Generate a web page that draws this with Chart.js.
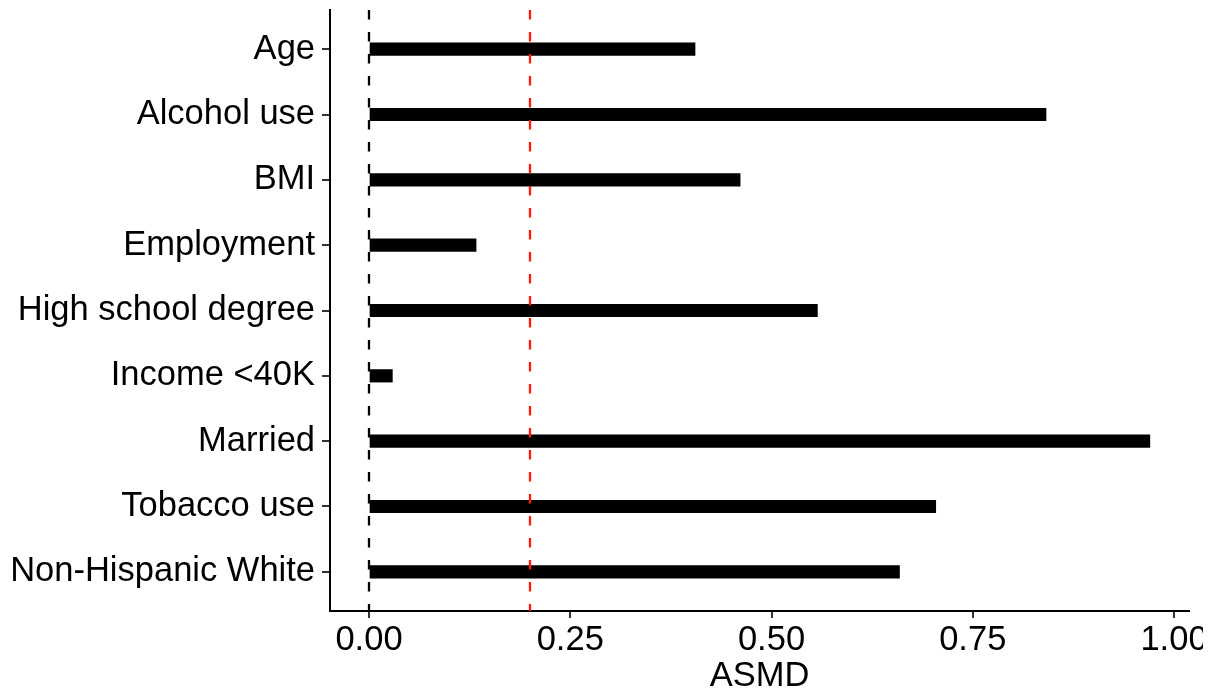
<!DOCTYPE html>
<html>
<head>
<meta charset="utf-8">
<title>ASMD by covariate</title>
<script src="https://cdn.jsdelivr.net/npm/chart.js@4/dist/chart.umd.min.js"></script>
<style>
  html, body { margin: 0; padding: 0; background: #ffffff; }
  #wrap { width: 1203px; height: 698px; position: relative; }
</style>
</head>
<body>
<div id="wrap"><canvas id="chart"></canvas></div>
<script>
// Covariates (top to bottom) and their absolute standardized mean differences
const covariates = ["Age", "Alcohol use", "BMI", "Employment", "High school degree",
                    "Income <40K", "Married", "Tobacco use", "Non-Hispanic White"];
const asmd = [0.405, 0.841, 0.461, 0.133, 0.557, 0.029, 0.970, 0.704, 0.659];

// Reference lines: zero and the 0.2 balance threshold
const zeroLine = 0;
const threshold = 0.2;

// X axis tick positions and labels
const xTicks = [0, 0.25, 0.5, 0.75, 1];
const xTickLabels = ["0.00", "0.25", "0.50", "0.75", "1.00"];

const FONT = "'Liberation Sans', Arial, Helvetica, sans-serif";

// Dashed vertical reference lines drawn above the bars
const refLines = {
  id: 'refLines',
  afterDatasetsDraw(chart) {
    const { ctx, chartArea, scales } = chart;
    const lines = [
      { value: zeroLine, color: '#000000' },
      { value: threshold, color: '#ff1a0a' }
    ];
    ctx.save();
    ctx.lineWidth = 2.3;
    ctx.lineCap = 'butt';
    ctx.setLineDash([9.5, 12.5]);
    for (const l of lines) {
      const x = scales.x.getPixelForValue(l.value);
      ctx.strokeStyle = l.color;
      ctx.beginPath();
      ctx.moveTo(x, chartArea.top);
      ctx.lineTo(x, chartArea.bottom);
      ctx.stroke();
    }
    ctx.restore();
  }
};

new Chart(document.getElementById('chart'), {
  type: 'bar',
  data: {
    datasets: [{
      data: asmd.map((v, i) => ({ x: v, y: i })),
      backgroundColor: '#000000',
      borderWidth: 0,
      barThickness: 12.5
    }]
  },
  options: {
    indexAxis: 'y',
    responsive: true,
    maintainAspectRatio: false,
    animation: false,
    layout: { padding: { top: 10, right: 14, left: 0, bottom: 0 } },
    plugins: { legend: { display: false }, tooltip: { enabled: false } },
    scales: {
      x: {
        type: 'linear',
        min: -0.04845,
        max: 1.01863,
        offset: false,
        afterBuildTicks(scale) { scale.ticks = xTicks.map(v => ({ value: v })); },
        afterFit(scale) {
          scale.height = 87;
          scale.paddingLeft = 0;
          scale.paddingRight = 0;
        },
        grid: { offset: false, drawOnChartArea: false, drawTicks: true, tickLength: 7, color: '#333333', lineWidth: 2 },
        border: { display: true, color: '#000000', width: 2 },
        ticks: {
          color: '#000000',
          padding: 2,
          maxRotation: 0,
          autoSkip: false,
          font: { family: FONT, size: 34.5 },
          callback: (v) => xTickLabels[xTicks.indexOf(v)]
        },
        title: {
          display: true,
          text: 'ASMD',
          color: '#000000',
          font: { family: FONT, size: 34.5 },
          padding: { top: 0, bottom: 1 }
        }
      },
      y: {
        type: 'linear',
        reverse: true,
        min: -0.6,
        max: 8.6,
        offset: false,
        afterBuildTicks(scale) { scale.ticks = covariates.map((_, i) => ({ value: i })); },
        afterFit(scale) {
          scale.width = 330;
          scale.paddingTop = 0;
          scale.paddingBottom = 0;
        },
        grid: { offset: false, drawOnChartArea: false, drawTicks: true, tickLength: 8, color: '#333333', lineWidth: 2 },
        border: { display: true, color: '#000000', width: 2 },
        ticks: {
          color: '#000000',
          padding: 7,
          autoSkip: false,
          font: { family: FONT, size: 34.5 },
          callback: (v) => covariates[v]
        }
      }
    }
  },
  plugins: [refLines]
});
</script>
</body>
</html>
